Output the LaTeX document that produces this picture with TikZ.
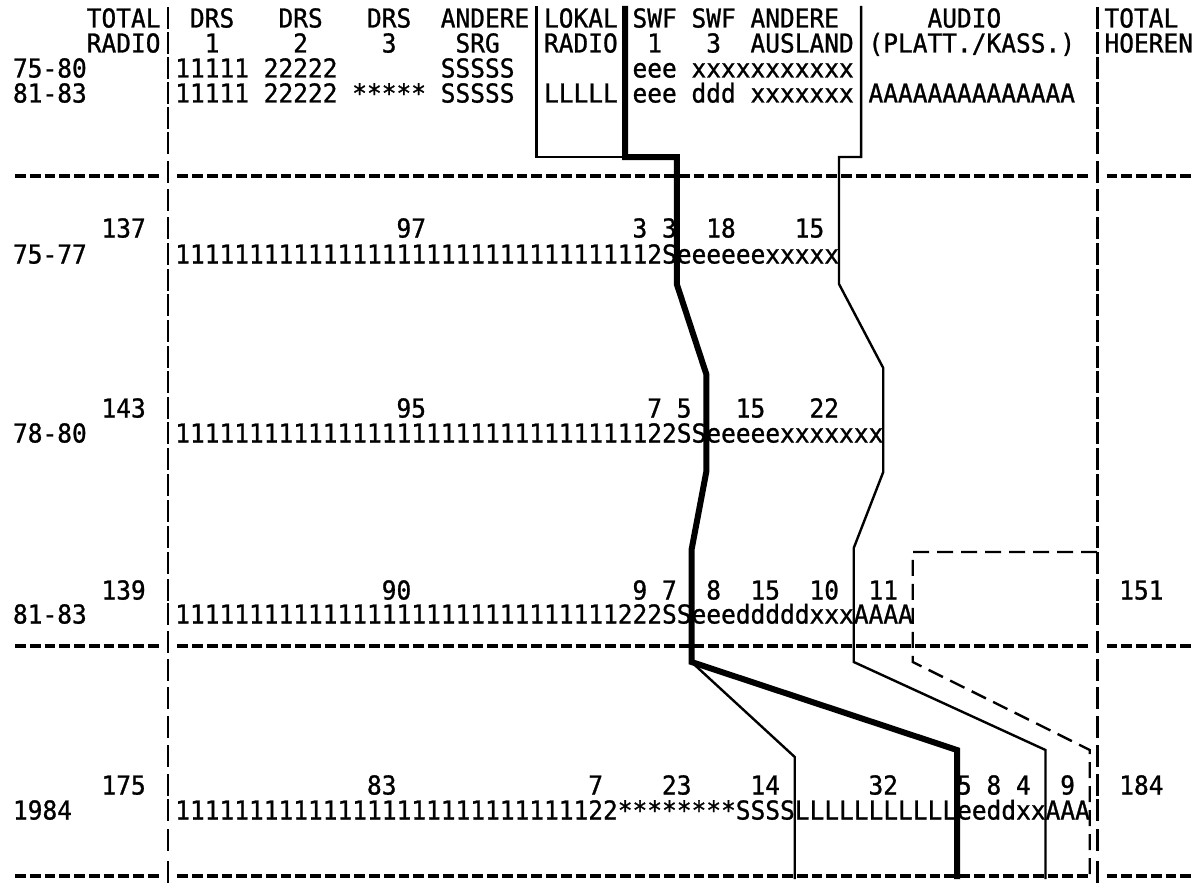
\documentclass[tikz,border=0pt]{standalone}
\usepackage{fontspec}
\newfontfamily\lpfont[FakeStretch=0.9425,FakeBold=1]{DejaVu Sans Mono}
\ExplSyntaxOn
\cs_new:Npn \repch #1#2 { \prg_replicate:nn {#1} {#2} }
\ExplSyntaxOff
\newcommand\LT[3]{\node[txt] at ({13+#1*14.75},{#2+9.5}) {#3};}
\begin{document}
\begin{tikzpicture}[x=1pt,y=-1pt,
  txt/.style={anchor=base west,inner sep=0pt,outer sep=0pt,font=\lpfont\fontsize{26}{26}\selectfont},
  thinln/.style={line width=2.4pt,line join=miter},
  thickln/.style={line width=6pt,line join=miter},
  prdash/.style={line width=2.8pt},
  hdash/.style={line width=3.2pt,dash pattern=on 10.75pt off 4pt},
  boxdash/.style={line width=2.4pt,dash pattern=on 16pt off 8pt}]
\fill[white] (0,0) rectangle (1195,883);
\useasboundingbox (0,0) rectangle (1195,883);
% printed vertical bars (col 10 and col 73)
\foreach \c in {18,43,68,93,118,143,172,200,228,254,280,305,331,357,382,408,433,459,485,511,537,563,590,614,642,670,698,727,756,785,810,840,872}{
  \draw[prdash] (167.9,\c-11) -- (167.9,\c+11);
  \draw[prdash] (1097.1,\c-11) -- (1097.1,\c+11);
}
% printed dashed rows
\foreach \y in {176,646,876}{
  \draw[hdash] (15,\y) -- (160.5,\y);
  \draw[hdash] (177.25,\y) -- (1089.75,\y);
  \draw[hdash] (1106.5,\y) -- (1193,\y);
}
% header
\LT{5}{18}{TOTAL}\LT{12}{18}{DRS}\LT{18}{18}{DRS}\LT{24}{18}{DRS}\LT{29}{18}{ANDERE}
\LT{36}{18}{LOKAL}\LT{42}{18}{SWF}\LT{46}{18}{SWF}\LT{50}{18}{ANDERE}\LT{62}{18}{AUDIO}\LT{74}{18}{TOTAL}
\LT{5}{43}{RADIO}\LT{13}{43}{1}\LT{19}{43}{2}\LT{25}{43}{3}\LT{30}{43}{SRG}
\LT{36}{43}{RADIO}\LT{43}{43}{1}\LT{47}{43}{3}\LT{50}{43}{AUSLAND}\LT{58}{43}{(PLATT./KASS.)}\LT{74}{43}{HOEREN}
\LT{0}{68}{75-80}\LT{11}{68}{11111}\LT{17}{68}{22222}\LT{29}{68}{SSSSS}\LT{42}{68}{eee}\LT{46}{68}{\repch{11}{x}}
\LT{0}{93}{81-83}\LT{11}{93}{11111}\LT{17}{93}{22222}\LT{23}{93}{*****}\LT{29}{93}{SSSSS}
\LT{36}{93}{LLLLL}\LT{42}{93}{eee}\LT{46}{93}{ddd}\LT{50}{93}{\repch{7}{x}}\LT{58}{93}{\repch{14}{A}}
% 75-77
\LT{6}{228}{137}\LT{26}{228}{97}\LT{42}{228}{3}\LT{44}{228}{3}\LT{47}{228}{18}\LT{53}{228}{15}
\LT{0}{254}{75-77}\LT{11}{254}{\repch{32}{1}2S\repch{6}{e}\repch{5}{x}}
% 78-80
\LT{6}{408}{143}\LT{26}{408}{95}\LT{43}{408}{7}\LT{45}{408}{5}\LT{49}{408}{15}\LT{54}{408}{22}
\LT{0}{433}{78-80}\LT{11}{433}{\repch{32}{1}22SS\repch{5}{e}\repch{7}{x}}
% 81-83
\LT{6}{590}{139}\LT{25}{590}{90}\LT{42}{590}{9}\LT{44}{590}{7}\LT{47}{590}{8}\LT{50}{590}{15}
\LT{54}{590}{10}\LT{58}{590}{11}\LT{75}{590}{151}
\LT{0}{614}{81-83}\LT{11}{614}{\repch{30}{1}222SS\repch{3}{e}\repch{5}{d}\repch{3}{x}\repch{4}{A}}
% 1984
\LT{6}{785}{175}\LT{24}{785}{83}\LT{39}{785}{7}\LT{44}{785}{23}\LT{50}{785}{14}\LT{58}{785}{32}
\LT{64}{785}{5}\LT{66}{785}{8}\LT{68}{785}{4}\LT{71}{785}{9}\LT{75}{785}{184}
\LT{0}{810}{1984}\LT{11}{810}{\repch{28}{1}22\repch{8}{*}SSSS\repch{11}{L}eeddxxAAA}
% drawn lines
\coordinate (bt) at (536.6,6);
\coordinate (kt) at (625,6);
\coordinate (rt) at (861.1,6);
\draw[thinln] (bt) -- (536.6,157) -- (625,157);
\draw[thickln] (kt) -- (625,157) -- (676.75,157) -- (676.75,284) -- (706.25,374)
  -- (706.25,472) -- (691.5,550) -- coordinate[pos=1] (kc) (691.5,662) -- (957,750) -- (957,879);
\draw[thinln] (rt) -- (861.1,157) -- (839,157) -- (839,284) -- (883.25,368) -- (883.25,472)
  -- (853.75,548) -- (853.75,662) -- (1045.5,750) -- (1045.5,879);
\draw[thinln] (kc) -- (794.75,757) -- (794.75,879);
\draw[boxdash] (1097,552) -- (912.75,552) -- (912.75,662) -- (1089.75,750) -- (1089.75,879);
\end{tikzpicture}
\end{document}
